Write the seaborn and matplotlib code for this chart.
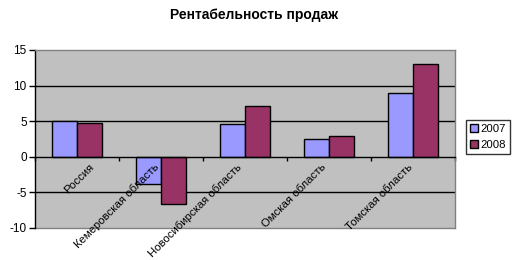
import matplotlib
matplotlib.use("Agg")
import matplotlib.pyplot as plt
import matplotlib.transforms as mtransforms
import seaborn as sns
import pandas as pd
import numpy as np

categories = ["Россия", "Кемеровская область", "Новосибирская область",
              "Омская область", "Томская область"]
years = ["2007", "2008"]
values_2007 = [5.0, -3.8, 4.6, 2.5, 9.0]
values_2008 = [4.8, -6.6, 7.1, 2.9, 13.0]
yticks = [-10, -5, 0, 5, 10, 15]
title = "Рентабельность продаж"

df = pd.DataFrame({
    "Регион": categories * 2,
    "Год": [years[0]] * len(categories) + [years[1]] * len(categories),
    "Значение": values_2007 + values_2008,
})

sns.set_theme(style="white")
plt.rcParams["font.family"] = ["Liberation Sans", "DejaVu Sans"]
plt.rcParams["text.color"] = "black"
plt.rcParams["xtick.color"] = "black"
plt.rcParams["ytick.color"] = "black"
plt.rcParams["axes.labelcolor"] = "black"

fig = plt.figure(figsize=(5.13, 2.60), dpi=100)
ax = fig.add_axes([35 / 513, 1 - 228 / 260, 420 / 513, 178 / 260])
ax.set_facecolor("#C0C0C0")

sns.barplot(data=df, x="Регион", y="Значение", hue="Год", order=categories,
            hue_order=years, palette=["#9999FF", "#993366"], width=0.6,
            edgecolor="black", linewidth=1, saturation=1, ax=ax, zorder=3)

ax.set_xlim(-0.5, len(categories) - 0.5)
ax.set_ylim(-10, 15)
ax.set_yticks(yticks)
ax.set_yticklabels([str(t) for t in yticks], fontsize=8.5)
for t in [-5, 5, 10]:
    ax.axhline(t, color="black", lw=1, zorder=1)
ax.set_xlabel("")
ax.set_ylabel("")

for s in ["top", "right"]:
    ax.spines[s].set_color("#808080")
    ax.spines[s].set_linewidth(1)
ax.spines["left"].set_color("black")
ax.spines["left"].set_linewidth(1)
ax.spines["bottom"].set_position(("data", 0))
ax.spines["bottom"].set_color("black")
ax.spines["bottom"].set_linewidth(1)
ax.spines["bottom"].set_zorder(4)
ax.plot([0, 1], [0, 0], transform=ax.transAxes, color="#808080", lw=1, clip_on=False)

ax.tick_params(axis="y", direction="out", length=4, width=1, color="black", pad=2, left=True)
ax.set_xticks(np.arange(-0.5, len(categories), 1.0))
ax.set_xticklabels([])
ax.tick_params(axis="x", direction="out", length=3, width=1, color="black", bottom=True)

shifts = [12, -7, -9, -8, -6]
for i, (lab, dx) in enumerate(zip(categories, shifts)):
    off = mtransforms.offset_copy(ax.transData, fig=fig, x=dx, y=-5, units="dots")
    ax.text(i, 0, lab, rotation=45, ha="right", va="top", rotation_mode="anchor",
            fontsize=8.2, transform=off, zorder=5)

leg = ax.legend(loc="upper left", bbox_to_anchor=(466 / 513, 1 - 120 / 260),
                bbox_transform=fig.transFigure, frameon=True, fontsize=8.2,
                handlelength=0.7, handleheight=0.7, handletextpad=0.25,
                borderpad=0.35, labelspacing=0.55, borderaxespad=0, fancybox=False)
leg.get_frame().set_edgecolor("black")
leg.get_frame().set_linewidth(1)
leg.set_title(None)

fig.text(254 / 513, 1 - 15 / 260, title, ha="center", va="center",
         fontsize=10, fontweight="bold")

fig.savefig("out.png", dpi=100)
